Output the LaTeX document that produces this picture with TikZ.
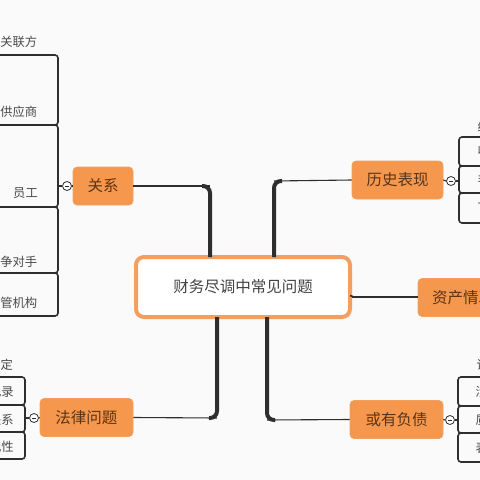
\documentclass[tikz,border=0pt]{standalone}
\usepackage{fontspec}
\setmainfont{Noto Sans CJK SC}
\definecolor{org}{HTML}{F5974C}
\definecolor{orgb}{HTML}{F2A062}
\definecolor{ln}{HTML}{2E2E2E}
\definecolor{txt}{HTML}{5A3418}
\definecolor{subc}{HTML}{4A4A4A}
\definecolor{bg}{HTML}{FAFAFA}
\begin{document}
\begin{tikzpicture}[x=1pt,y=-1pt,
 topic/.style={fill=org, draw=orgb, line width=0.6pt, rounded corners=4pt, minimum height=38pt, text=txt, font=\fontsize{15.5}{16}\selectfont, inner sep=0pt},
 cell/.style={draw=ln, line width=1.6pt, rounded corners=3pt},
 subtxt/.style={text=subc, font=\fontsize{12.3}{12.3}\selectfont, inner sep=0pt},
 trunk/.style={draw=ln, line width=4pt, rounded corners=7pt},
 branch/.style={draw=ln, line width=1.1pt},
 knob/.style={circle, draw=ln, fill=white, line width=0.8pt, minimum size=9pt, inner sep=0pt},
 minus/.style={draw=ln, line width=0.6pt}
]
\useasboundingbox (0,0) rectangle (480,480);
\fill[bg] (0,0) rectangle (480,480);
\begin{scope}
\clip (0,0) rectangle (480,480);

% central topic
\node[draw=orgb, line width=4pt, fill=white, rounded corners=8pt, minimum width=214pt, minimum height=60pt, inner sep=0pt, text=ln!90, font=\fontsize{15.5}{16}\selectfont] (ctr) at (243,287) {财务尽调中常见问题};

% main topics
\node[topic, minimum width=60pt] (rel) at (103,186) {关系};
\node[topic, minimum width=91pt] (his) at (397.5,180) {历史表现};
\node[topic, minimum width=91pt, text width=91pt, align=left] (ast) at (463.5,297.5) {\hspace*{14pt}资产情况};
\node[topic, minimum width=93pt] (law) at (86.5,417.5) {法律问题};
\node[topic, minimum width=93pt] (con) at (396.5,419.5) {或有负债};

% trunks
\coordinate (c1) at (210,186);
\coordinate (c2) at (274,181);
\coordinate (c3) at (217,418);
\coordinate (c4) at (267,420);
\draw[trunk] (210,257) -- (c1) -- (202,186);
\draw[branch] (rel.east) -- (c1);
\draw[trunk] (274,257) -- (c2) -- (282,181);
\draw[branch] (c2) -- (his.west);
\draw[trunk] (217,317) -- (c3) -- (209,418);
\draw[branch] (c3) -- (law.east);
\draw[trunk] (267,317) -- (c4) -- (275,420);
\draw[branch] (c4) -- (con.west);
\coordinate (a1) at (352,297);
\draw[branch] (a1) -- (a1 -| ast.west);
\draw[line width=1.6pt, ln] (350,295.5) -- (354,297);

% upper-left group (关系)
\draw[cell] (-10,55) rectangle (58,125);
\draw[cell] (-10,125) rectangle (58,207);
\draw[cell] (-10,207) rectangle (58,273);
\draw[cell] (-10,273) rectangle (58,316);
\node[subtxt, anchor=east] (r0) at (37.5,42) {主要关联方};
\node[subtxt, anchor=east] (r1) at (37.5,112) {主要供应商};
\node[subtxt, anchor=east] (r2) at (38,193) {员工};
\node[subtxt, anchor=east] (r3) at (37.5,262) {竞争对手};
\node[subtxt, anchor=east] (r4) at (37.5,303) {监管机构};
\node[knob] (k1) at (67,186) {};
\draw[minus] ([xshift=-2pt]k1.center) -- ([xshift=2pt]k1.center);
\coordinate (b1) at (58,186);
\draw[branch] (b1) -- (k1.west);
\draw[branch] (k1.east) -- (rel.west);

% lower-left group (法律问题)
\draw[cell] (-10,377) rectangle (25,405);
\draw[cell] (-10,405) rectangle (25,432);
\draw[cell] (-10,432) rectangle (25,459);
\node[subtxt, anchor=east] (l0) at (13,365) {合同约定};
\node[subtxt, anchor=east] (l1) at (14,392) {诉讼记录};
\node[subtxt, anchor=east] (l2) at (14,420) {劳动关系};
\node[subtxt, anchor=east] (l3) at (14,447) {合规性};
\node[knob] (k2) at (34,418) {};
\draw[minus] ([xshift=-2pt]k2.center) -- ([xshift=2pt]k2.center);
\coordinate (b2) at (25,418);
\draw[branch] (b2) -- (k2.west);
\draw[branch] (k2.east) -- (law.west);

% upper-right group (历史表现)
\draw[cell] (459,137) rectangle (500,166);
\draw[cell] (459,166) rectangle (500,193);
\draw[cell] (459,193) rectangle (500,223);
\node[subtxt, anchor=west] (h0) at (477.5,127) {经营情况};
\node[subtxt, anchor=west] (h1) at (477.5,151) {收入};
\node[subtxt, anchor=west] (h2) at (477.5,180) {毛利};
\node[subtxt, anchor=west] (h3) at (477.5,208) {下滑};
\node[knob] (k3) at (451,181) {};
\draw[minus] ([xshift=-2pt]k3.center) -- ([xshift=2pt]k3.center);
\coordinate (b3) at (459,181);
\draw[branch] (his.east) -- (k3.west);
\draw[branch] (k3.east) -- (b3);

% lower-right group (或有负债)
\draw[cell] (458,377) rectangle (500,406);
\draw[cell] (458,406) rectangle (500,433);
\draw[cell] (458,433) rectangle (500,462);
\node[subtxt, anchor=west] (d0) at (476.5,365) {诉讼};
\node[subtxt, anchor=west] (d1) at (475.5,392) {涉诉};
\node[subtxt, anchor=west] (d2) at (475.5,420) {质押};
\node[subtxt, anchor=west] (d3) at (475.5,448) {表外担保};
\node[knob] (k4) at (450,420) {};
\draw[minus] ([xshift=-2pt]k4.center) -- ([xshift=2pt]k4.center);
\coordinate (b4) at (458,420);
\draw[branch] (con.east) -- (k4.west);
\draw[branch] (k4.east) -- (b4);
\end{scope}
\end{tikzpicture}
\end{document}
